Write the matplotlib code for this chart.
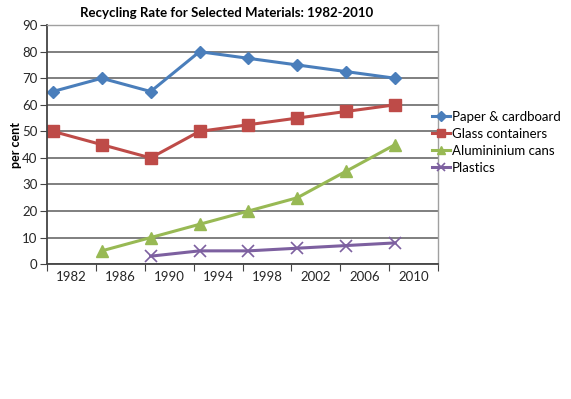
import numpy as np
import matplotlib
matplotlib.use("Agg")
import matplotlib.pyplot as plt

# data
years = ['1982', '1986', '1990', '1994', '1998', '2002', '2006', '2010']
paper = [65, 70, 65, 80, 77.5, 75, 72.5, 70]
glass = [50, 45, 40, 50, 52.5, 55, 57.5, 60]
alu = [np.nan, 5, 10, 15, 20, 25, 35, 45]
plastics = [np.nan, np.nan, 3, 5, 5, 6, 7, 8]

plt.rcParams['font.family'] = ['Lato', 'DejaVu Sans']

fig = plt.figure(figsize=(5.71, 3.99), dpi=100)
ax = fig.add_axes([0.0823, 0.338, 0.685, 0.599])

x = np.arange(len(years)) + 0.12
ax.plot(x, paper, color='#4a7ebb', lw=2.2, marker='D', ms=6.5, label='Paper & cardboard')
ax.plot(x, glass, color='#be4b48', lw=2.2, marker='s', ms=8, label='Glass containers')
ax.plot(x, alu, color='#98b954', lw=2.2, marker='^', ms=8, label='Alumininium cans')
ax.plot(x, plastics, color='#7d60a0', lw=2.2, marker='x', ms=8, mew=1.2, label='Plastics')

# axes decoration
ax.set_xlim(0, 8)
ax.set_ylim(0, 90)
ax.set_yticks(range(0, 91, 10))
ax.set_xticks(range(0, 9))
ax.set_xticklabels([])
ax.set_xticks(np.arange(8) + 0.5, minor=True)
ax.set_xticklabels(years, minor=True)
ax.tick_params(axis='x', which='minor', length=0, labelsize=9.5, pad=5, colors='#262626')
ax.tick_params(axis='x', which='major', length=5, direction='out', color='#444444')
ax.tick_params(axis='y', length=5, direction='out', labelsize=9.5, color='#444444', labelcolor='#262626', pad=2)
ax.grid(axis='y', color='#7f7f7f', lw=1.4)
ax.set_axisbelow(True)
for s in ['top', 'right']:
    ax.spines[s].set_color('#a0a0a0')
    ax.spines[s].set_linewidth(1.0)
for s in ['left', 'bottom']:
    ax.spines[s].set_color('#444444')
    ax.spines[s].set_linewidth(1.3)

ax.set_ylabel('per cent', fontsize=9, fontweight='bold')
ax.yaxis.set_label_coords(-0.065, 0.5)
fig.text(0.397, 0.968, 'Recycling Rate for Selected Materials: 1982-2010',
         ha='center', va='center', fontsize=9.5, fontweight='bold')

fig.legend(loc='upper left', bbox_to_anchor=(0.748, 0.736), frameon=False,
           fontsize=9.5, handlelength=1.3, handletextpad=0.15,
           labelspacing=0.38, markerscale=0.75, borderaxespad=0)

fig.savefig('out.png', dpi=100)
